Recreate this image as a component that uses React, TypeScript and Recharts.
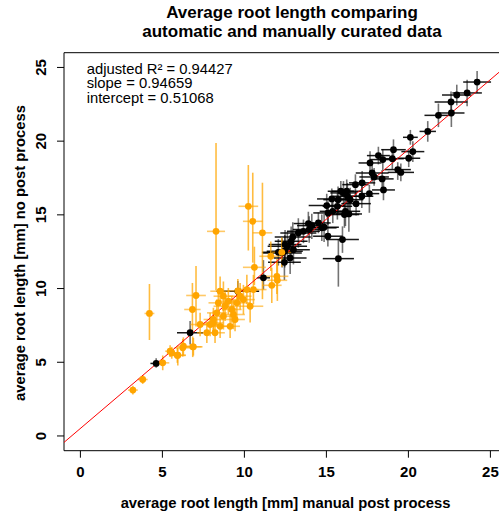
import { ScatterChart, Scatter, XAxis, YAxis, ErrorBar, ReferenceLine, ReferenceArea } from "recharts";

const FONT = '"Liberation Sans", Arial, Helvetica, sans-serif';

const xTicks = [0, 5, 10, 15, 20, 25];
const yTicks = [0, 5, 10, 15, 20, 25];

// linear fit reported in the corner
const adjustedR2 = "0.94427";
const fitSlope = 0.94659;
const fitIntercept = 0.51068;

// automatic run, in agreement with manual curation (black)
const blackX = [24.19, 23.58, 22.95, 22.6, 21.83, 22.62, 21.18, 20.12, 20.27, 20.02, 19.09, 19.02, 18.44, 18.17, 17.66, 19.35, 19.54, 17.79, 17.91, 18.4, 18.48, 17.18, 16.77, 17.62, 17.16, 16.24, 16.04, 16.28, 16.45, 16.81, 15.71, 15.33, 15.02, 15.67, 15.39, 16.16, 16.37, 15.1, 14.51, 14.86, 15.09, 14.11, 13.95, 13.6, 13.29, 12.95, 12.85, 15.98, 15.73, 12.62, 12.46, 12.3, 12.79, 12.44, 12.07, 11.16, 13.9, 14.72, 15.88, 16.1, 12.99, 12.48, 9.6, 6.69, 4.62];
const blackY = [24.01, 23.27, 23.13, 22.66, 21.75, 21.91, 20.66, 20.26, 19.29, 18.84, 19.42, 18.81, 18.75, 19.02, 18.52, 18.07, 17.88, 17.84, 17.57, 17.44, 16.69, 17.17, 17.05, 16.44, 16.26, 16.6, 16.49, 16.26, 16.03, 15.76, 16.03, 16.08, 15.63, 15.58, 15.24, 15.24, 15.06, 15.13, 14.45, 14.16, 13.55, 14.27, 14.0, 13.88, 13.77, 13.5, 13.21, 13.32, 12.03, 12.87, 12.53, 12.42, 12.08, 11.78, 12.46, 10.73, 14.41, 14.12, 16.6, 15.02, 12.64, 12.98, 9.81, 7.0, 4.92];
const blackErrX = [0.85, 0.9, 0.9, 1.0, 0.85, 0.8, 0.5, 0.45, 0.7, 0.7, 0.75, 0.7, 0.8, 0.7, 0.7, 0.8, 0.8, 1.0, 0.9, 0.7, 0.7, 0.8, 0.8, 0.6, 0.7, 0.9, 0.8, 0.9, 0.8, 0.9, 0.9, 0.9, 1.1, 0.9, 0.8, 0.9, 0.8, 0.9, 0.75, 0.9, 0.9, 0.9, 1.0, 1.0, 1.1, 1.1, 1.0, 1.0, 0.95, 1.2, 1.1, 1.2, 1.0, 1.0, 1.0, 0.4, 0.9, 0.9, 0.8, 0.9, 1.0, 1.0, 1.3, 0.8, 0.35];
const blackErrYLow = [0.75, 0.9, 0.7, 0.7, 0.8, 0.95, 0.7, 0.5, 0.7, 0.6, 0.7, 0.7, 0.7, 0.6, 0.8, 0.7, 0.6, 0.6, 0.6, 0.6, 0.7, 0.9, 0.7, 1.3, 0.8, 0.8, 0.8, 0.9, 0.8, 0.8, 0.9, 0.7, 0.8, 0.9, 0.8, 1.0, 1.2, 0.8, 0.7, 1.0, 0.7, 0.9, 0.9, 0.8, 1.0, 1.0, 1.1, 0.9, 1.9, 1.0, 1.1, 1.0, 1.1, 1.2, 0.9, 0.8, 0.8, 0.9, 0.7, 0.9, 1.0, 1.0, 0.7, 0.8, 0.3];
const blackErrYHigh = [0.75, 0.9, 0.7, 0.7, 0.8, 0.6, 0.7, 0.5, 0.7, 0.6, 0.7, 0.7, 0.7, 0.6, 0.8, 0.5, 0.6, 0.6, 0.6, 0.6, 0.7, 0.8, 0.7, 0.6, 0.8, 0.8, 0.8, 0.9, 0.8, 0.8, 0.9, 0.7, 0.8, 0.9, 0.8, 0.9, 0.8, 0.8, 0.7, 0.9, 1.6, 0.8, 0.9, 0.8, 1.0, 1.0, 1.0, 0.9, 1.3, 1.0, 1.1, 1.0, 1.0, 1.0, 0.9, 1.2, 0.8, 0.9, 0.7, 0.9, 1.0, 1.0, 0.7, 0.8, 0.35];

// automatic run, needing manual correction (orange)
const orangeX = [8.27, 10.24, 10.51, 11.1, 4.21, 7.05, 6.83, 10.61, 11.67, 12.01, 11.61, 8.52, 7.91, 8.11, 8.32, 8.72, 8.82, 9.02, 9.23, 9.33, 9.54, 9.74, 9.94, 9.43, 8.52, 7.71, 10.35, 10.15, 8.72, 9.13, 8.41, 8.21, 6.28, 6.89, 5.47, 5.91, 3.2, 3.8, 5.02, 5.57, 5.94, 6.24, 6.85, 7.3, 8.11, 11.98, 10.55, 12.28, 9.6];
const orangeY = [13.88, 15.58, 14.56, 13.78, 8.31, 9.53, 8.58, 11.44, 10.22, 10.56, 12.19, 9.82, 7.56, 7.9, 8.35, 8.12, 8.8, 9.14, 8.58, 8.24, 9.03, 9.48, 9.25, 7.9, 7.44, 7.0, 8.8, 9.93, 9.48, 7.44, 9.03, 7.0, 6.09, 6.05, 5.75, 5.46, 3.11, 3.83, 4.96, 5.64, 5.48, 5.98, 6.05, 7.56, 7.67, 10.83, 9.93, 12.46, 9.84];
const orangeErrX = [0.55, 0.6, 0.6, 0.6, 0.3, 0.6, 0.5, 0.7, 0.6, 0.6, 0.7, 0.6, 0.5, 0.6, 0.6, 0.6, 0.7, 0.7, 0.6, 0.7, 0.8, 0.7, 0.7, 0.6, 0.6, 0.6, 0.8, 0.7, 0.6, 0.6, 0.6, 0.6, 0.4, 0.5, 0.3, 0.5, 0.3, 0.3, 0.4, 0.3, 0.5, 0.5, 0.6, 0.6, 0.6, 0.7, 0.8, 0.6, 0.6];
const orangeErrYLow = [4.0, 3.0, 2.8, 4.5, 1.8, 2.1, 1.6, 1.2, 1.2, 1.4, 1.0, 1.0, 0.8, 0.8, 0.9, 0.9, 1.0, 0.9, 0.9, 1.0, 1.0, 0.9, 1.0, 0.8, 0.8, 0.7, 1.1, 1.0, 1.0, 0.8, 0.9, 0.7, 0.6, 0.6, 0.4, 0.5, 0.3, 0.3, 0.5, 0.4, 0.7, 0.6, 0.7, 0.8, 0.8, 1.2, 1.0, 1.0, 0.8];
const orangeErrYHigh = [6.0, 2.8, 3.3, 3.4, 2.0, 2.0, 1.8, 1.4, 1.2, 1.2, 1.0, 1.0, 0.8, 0.8, 0.9, 0.9, 1.0, 0.9, 0.9, 1.0, 1.0, 0.9, 1.0, 0.8, 0.8, 0.7, 1.1, 1.0, 1.0, 0.8, 0.9, 0.7, 0.6, 0.6, 0.4, 0.5, 0.3, 0.3, 0.5, 0.4, 0.5, 0.6, 0.7, 0.8, 0.8, 1.2, 1.0, 1.0, 0.8];

const blackData = blackX.map((x, i) => ({ x, y: blackY[i], ex: blackErrX[i], ey: [blackErrYLow[i], blackErrYHigh[i]] }));
const orangeData = orangeX.map((x, i) => ({ x, y: orangeY[i], ex: orangeErrX[i], ey: [orangeErrYLow[i], orangeErrYHigh[i]] }));

const X_MIN = -1;
const X_MAX = 26;

const XTick = (props: any) => (
  <text x={props.x} y={477} textAnchor="middle" fontFamily={FONT} fontSize={15} fontWeight="bold" fill="#000">
    {props.payload.value}
  </text>
);

const YTick = (props: any) => (
  <text x={46} y={props.y} transform={`rotate(-90 46 ${props.y})`} textAnchor="middle" fontFamily={FONT} fontSize={15} fontWeight="bold" fill="#000">
    {props.payload.value}
  </text>
);

const dot = (fill: string) => (props: any) => <circle cx={props.cx} cy={props.cy} r={3.4} fill={fill} />;

export default function App() {
  return (
    <div style={{ position: "fixed", left: 0, top: 0, width: 499, height: 515, overflow: "hidden", background: "#fff" }}>
      <ScatterChart width={530} height={515} margin={{ top: 52.7, right: 23.2, bottom: 34.3, left: 0 }}>
        <XAxis type="number" dataKey="x" domain={[X_MIN, X_MAX]} ticks={xTicks} interval={0} allowDataOverflow axisLine={false} tickLine={{ stroke: "#000" }} tickSize={7} height={30} tick={XTick} />
        <YAxis type="number" dataKey="y" domain={[-1, 26]} ticks={yTicks} interval={0} allowDataOverflow axisLine={false} tickLine={{ stroke: "#000" }} tickSize={7} width={64} tick={YTick} />
        <ReferenceArea x1={X_MIN} x2={X_MAX} y1={-1} y2={26} fill="none" stroke="#000" strokeWidth={1} ifOverflow="visible" />
        {/* black first so the orange series sits on top where they overlap */}
        <Scatter data={blackData} isAnimationActive={false} shape={dot("#000")}>
          <ErrorBar dataKey="ex" direction="x" width={0} stroke="rgba(0,0,0,0.9)" strokeWidth={1.5} isAnimationActive={false} />
          <ErrorBar dataKey="ey" direction="y" width={0} stroke="rgba(0,0,0,0.55)" strokeWidth={1.6} isAnimationActive={false} />
        </Scatter>
        <Scatter data={orangeData} isAnimationActive={false} shape={dot("#FFA500")}>
          <ErrorBar dataKey="ex" direction="x" width={0} stroke="rgba(255,165,0,0.6)" strokeWidth={1.6} isAnimationActive={false} />
          <ErrorBar dataKey="ey" direction="y" width={0} stroke="rgba(255,165,0,0.75)" strokeWidth={1.6} isAnimationActive={false} />
        </Scatter>
        <ReferenceLine
          segment={[
            { x: X_MIN, y: fitSlope * X_MIN + fitIntercept },
            { x: X_MAX, y: fitSlope * X_MAX + fitIntercept },
          ]}
          stroke="#ff0000"
          strokeWidth={1}
          ifOverflow="visible"
        />
      </ScatterChart>
      <svg width={499} height={515} style={{ position: "absolute", left: 0, top: 0, pointerEvents: "none" }}>
        <g fontFamily={FONT} fill="#000">
          <text x={292} y={17.5} textAnchor="middle" fontSize={17} fontWeight="bold">Average root length comparing</text>
          <text x={292} y={36.5} textAnchor="middle" fontSize={17} fontWeight="bold">automatic and manually curated data</text>
          <text x={285.5} y={507.5} textAnchor="middle" fontSize={14.8} fontWeight="bold">average root length [mm] manual post process</text>
          <text x={24.5} y={253} transform="rotate(-90 24.5 253)" textAnchor="middle" fontSize={14.8} fontWeight="bold">average root length [mm] no post process</text>
          <text x={86.7} y={73.8} fontSize={14.8}>adjusted R² = {adjustedR2}</text>
          <text x={86.7} y={88.4} fontSize={14.8}>slope = {fitSlope}</text>
          <text x={86.7} y={103} fontSize={14.8}>intercept = {fitIntercept}</text>
        </g>
      </svg>
    </div>
  );
}
